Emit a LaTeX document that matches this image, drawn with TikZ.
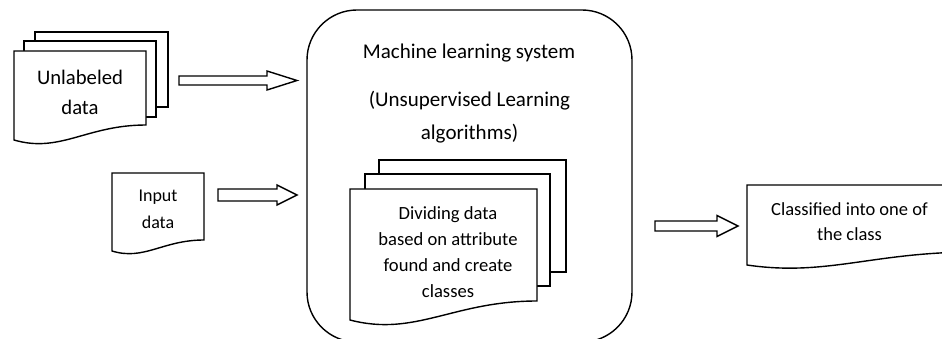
\documentclass[tikz,border=0pt]{standalone}
\usepackage{fontspec}
\setmainfont{Carlito}
\tikzset{
  shapeline/.style={draw=black, line width=1.4pt, line join=miter},
  txt/.style={align=center, inner sep=0pt, text=black},
}
\newcommand\mydoc[5]{% L T R Br Bl
  \pgfmathsetmacro\dw{#3-#1}%
  \pgfmathsetmacro\cxa{#3-0.45*\dw}%
  \pgfmathsetmacro\cxb{#1+0.35*\dw}%
  \pgfmathsetmacro\cyb{#5+0.9*(#5-#4)}%
  \draw[shapeline, fill=white] (#1,#2) -- (#3,#2) -- (#3,#4) .. controls (\cxa,#4) and (\cxb,\cyb) .. (#1,#5) -- cycle;
}
\newcommand\mypage[4]{% L T R B
  \draw[shapeline, fill=white] (#1,#2) rectangle (#3,#4);
}
\newcommand\blockarrow[6]{% x1 x2 c s h xb
  \draw[shapeline, fill=white] (#1,#3-#4) -- (#6,#3-#4) -- (#6,#3-#5) -- (#2,#3) -- (#6,#3+#5) -- (#6,#3+#4) -- (#1,#3+#4) -- cycle;
}
\begin{document}
\begin{tikzpicture}[x=1pt, y=-1pt]
  \useasboundingbox (0,0) rectangle (942,339);
  \clip (0,0) rectangle (942,339);
  \fill[white] (0,0) rectangle (942,339);

  % Unlabeled data (multi-document)
  \mypage{35}{32}{168}{107}
  \mypage{24}{41}{156}{117}
  \mydoc{14}{51}{146}{125}{140}
  \node[txt, font=\fontsize{20.7}{30}\selectfont] (unl) at (80,92) {Unlabeled\\data};

  % Input data
  \mydoc{112}{173}{204}{240}{251}
  \node[txt, font=\fontsize{18}{27}\selectfont] (inp) at (158,209) {Input\\data};

  % Arrows into system
  \blockarrow{179}{297}{80.5}{4.5}{9.5}{267}
  \blockarrow{218}{297}{195}{6}{10}{277}

  % Machine learning system
  \draw[shapeline, rounded corners=50pt] (307,10) rectangle (632,342);
  \coordinate (sys) at (469.5,176);
  \node[txt, font=\fontsize{21}{33}\selectfont] (title) at (469,53) {Machine learning system};
  \node[txt, font=\fontsize{21}{33}\selectfont] (algo) at (469.5,117) {(Unsupervised Learning\\algorithms)};

  % inner multi-document
  \mypage{379}{160}{566}{272}
  \mypage{365}{174}{550}{286}
  \mydoc{350}{189}{537}{301}{320}
  \node[txt, font=\fontsize{18.6}{26.2}\selectfont] (div) at (448,252) {Dividing data\\based on attribute\\found and create\\classes};

  % output arrow
  \blockarrow{655}{738}{226}{5}{10.5}{717}

  % Classified document
  \mydoc{747}{185}{975}{252}{265}
  \node[txt, font=\fontsize{18.5}{25}\selectfont] (cls) at (849.5,222) {Classified into one of\\the class};
\end{tikzpicture}
\end{document}
